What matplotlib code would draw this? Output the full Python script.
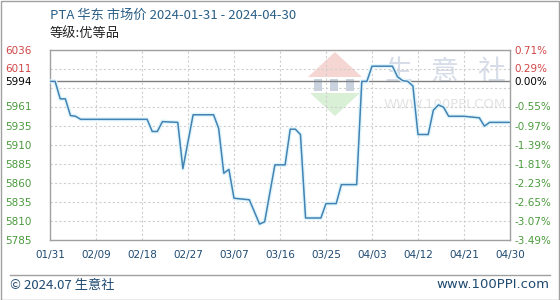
import numpy as np
import pandas as pd
import matplotlib
matplotlib.use("Agg")
import matplotlib.pyplot as plt
import matplotlib.patheffects as pe
from matplotlib.patches import Polygon, Rectangle
from matplotlib.lines import Line2D

CJK = ["Noto Sans CJK SC", "DejaVu Sans"]

# price readings (vertices of the line)
dates = ["2024-01-31", "2024-02-01", "2024-02-02", "2024-02-03", "2024-02-04",
         "2024-02-05", "2024-02-06", "2024-02-19", "2024-02-20", "2024-02-21",
         "2024-02-22", "2024-02-25", "2024-02-26", "2024-02-28", "2024-03-03",
         "2024-03-04", "2024-03-05", "2024-03-06", "2024-03-07", "2024-03-10",
         "2024-03-12", "2024-03-13", "2024-03-15", "2024-03-17", "2024-03-18",
         "2024-03-19", "2024-03-20", "2024-03-21", "2024-03-24", "2024-03-25",
         "2024-03-27", "2024-03-28", "2024-03-31", "2024-04-01", "2024-04-02",
         "2024-04-03", "2024-04-07", "2024-04-08", "2024-04-09", "2024-04-10",
         "2024-04-11", "2024-04-12", "2024-04-14", "2024-04-15", "2024-04-16",
         "2024-04-17", "2024-04-18", "2024-04-21", "2024-04-24", "2024-04-25",
         "2024-04-26", "2024-04-30"]
prices = [5994, 5994, 5971, 5971, 5949,
          5948, 5944, 5944, 5928, 5928,
          5941, 5940, 5879, 5950, 5950,
          5932, 5873, 5878, 5840, 5838,
          5806, 5809, 5884, 5884, 5931,
          5931, 5924, 5814, 5814, 5833,
          5833, 5858, 5858, 5994, 5994,
          6014, 6014, 6000, 5995, 5994,
          5988, 5924, 5924, 5956, 5963,
          5960, 5948, 5948, 5946, 5935,
          5940, 5940]

base_price = 5994
left_labels = ["6036", "6011", "5994", "5961", "5935", "5910", "5885",
               "5860", "5835", "5810", "5785"]
right_labels = ["0.71%", "0.29%", "0.00%", "-0.55%", "-0.97%", "-1.39%",
                "-1.81%", "-2.23%", "-2.65%", "-3.07%", "-3.49%"]
x_labels = ["01/31", "02/09", "02/18", "02/27", "03/07", "03/16", "03/25",
            "04/03", "04/12", "04/21", "04/30"]

title = "PTA 华东 市场价 2024-01-31 - 2024-04-30"
subtitle = "等级:优等品"

df = pd.DataFrame({"date": pd.to_datetime(dates), "price": prices})

W, H = 560, 300
fig = plt.figure(figsize=(5.6, 3.0), dpi=100)
fig.patch.set_facecolor("white")
ax = fig.add_axes([50 / W, 1 - 240 / H, 460 / W, (240 - 49.5) / H])
ax.set_zorder(2)

ymin, ymax = float(left_labels[-1]), float(left_labels[0])
x0 = pd.Timestamp("2024-01-31")
x1 = pd.Timestamp("2024-04-30")
ax.set_xlim(x0, x1)
ax.set_ylim(ymin, ymax)


def fx(px):
    return px / W


def fy(py):
    return 1 - py / H


# watermark behind the axes
fig.patches.append(Polygon([(fx(335), fy(52)), (fx(308), fy(77)), (fx(362), fy(77))],
                           closed=True, transform=fig.transFigure,
                           facecolor="#f6d6d2", edgecolor="none", zorder=-1))
fig.patches.append(Polygon([(fx(335), fy(116)), (fx(310), fy(93)), (fx(360), fy(93))],
                           closed=True, transform=fig.transFigure,
                           facecolor="#d9efd6", edgecolor="none", zorder=-1))
for bx in [314, 330, 346]:
    fig.patches.append(Rectangle((fx(bx), fy(91)), 8 / W, 12 / H,
                                 transform=fig.transFigure, facecolor="#c9d3e0",
                                 edgecolor="none", zorder=-1))
for ch, cx in zip("生意社", [398, 444, 491]):
    fig.text(fx(cx), fy(72), ch, family=CJK, fontsize=20, color="#d6dde8",
             ha="center", va="center", zorder=-1)
fig.text(fx(445), fy(105), "WWW.100PPI.COM", fontsize=9.5, color="#e3e3e3",
         ha="center", va="center", zorder=-1)
ax.set_facecolor("none")

# grid
grid_y = np.linspace(ymin, ymax, 11)
for gy in grid_y:
    ax.axhline(gy, color="#cfcfcf", lw=0.8, ls=(0, (2, 2)), zorder=1)
xt = [x0 + pd.Timedelta(days=9 * i) for i in range(len(x_labels))]
for t in xt[1:-1]:
    ax.axvline(t, color="#cfcfcf", lw=0.8, ls=(0, (2, 2)), zorder=1)
ax.axhline(base_price, color="#808080", lw=1.0, zorder=2)

ax.plot(df["date"], df["price"], color="#4283b3", lw=1.1, zorder=3,
        path_effects=[pe.Stroke(linewidth=3.0, foreground="#e0f5fb"), pe.Normal()])

for s in ax.spines.values():
    s.set_color("#a0a0a0")
    s.set_linewidth(1.0)

# ticks
ax.set_xticks(xt)
ax.set_xticklabels(x_labels, fontsize=7.5, color="#1f4a70")
ax.tick_params(axis="x", length=0, pad=7)

yvals = [float(v) for v in left_labels]
ax.set_yticks(yvals)
ax.set_yticklabels(left_labels, fontsize=7.5, ha="left")
ax.tick_params(axis="y", length=0, pad=32.5)

ax2 = ax.twinx()
ax2.set_ylim(ymin, ymax)
ax2.set_yticks(yvals)
ax2.set_yticklabels(right_labels, fontsize=7.5)
ax2.tick_params(axis="y", length=0, pad=3)
for s in ax2.spines.values():
    s.set_visible(False)

for lab_l, lab_r, v in zip(ax.get_yticklabels(), ax2.get_yticklabels(), yvals):
    if v > base_price:
        c = "#d04545"
    elif v == base_price:
        c = "#000000"
    else:
        c = "#4a9a3c"
    lab_l.set_color(c)
    lab_r.set_color(c)

# titles and footer
fig.text(fx(50), fy(15), title, family=CJK, fontsize=9.5, color="#2a5f86",
         ha="left", va="center")
fig.text(fx(50), fy(34), subtitle, family=CJK, fontsize=9.5, color="#222222",
         ha="left", va="center")
fig.text(fx(10), fy(285), "© 2024.07 生意社", family=CJK, fontsize=9.5,
         color="#1f4a70", ha="left", va="center")
fig.text(fx(549), fy(285), "www.100PPI.com", fontsize=9.5,
         color="#1f4a70", ha="right", va="center")

fig.lines.append(Line2D([fx(10), fx(550)], [fy(275), fy(275)],
                        transform=fig.transFigure, color="#a0a0a0", lw=1))
fig.patches.append(Rectangle((0.5 / W, 0.5 / H), 1 - 1.5 / W, 1 - 1.5 / H,
                             transform=fig.transFigure, fill=False,
                             edgecolor="#a0a0a0", lw=1))

fig.savefig("out.png", dpi=100)
